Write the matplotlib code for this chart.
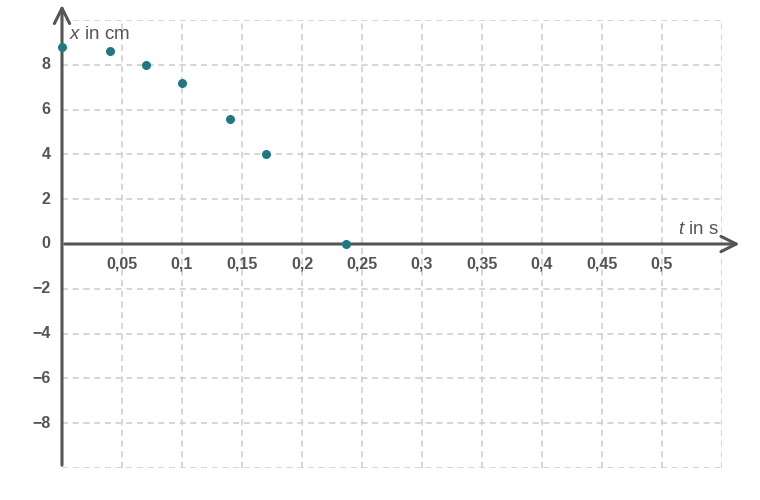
import matplotlib.pyplot as plt

# data
t_values = [0.0, 0.04, 0.07, 0.10, 0.14, 0.17, 0.237]
x_values = [8.8, 8.6, 8.0, 7.2, 5.6, 4.0, 0.0]

x_ticks = [0.05, 0.1, 0.15, 0.2, 0.25, 0.3, 0.35, 0.4, 0.45, 0.5]
x_tick_labels = ["0,05", "0,1", "0,15", "0,2", "0,25", "0,3", "0,35", "0,4", "0,45", "0,5"]
y_ticks = [-8, -6, -4, -2, 0, 2, 4, 6, 8]
y_tick_labels = ["\u22128", "\u22126", "\u22124", "\u22122", "0", "2", "4", "6", "8"]

plt.rcParams['font.family'] = ['Liberation Sans', 'DejaVu Sans']
plt.rcParams['mathtext.fontset'] = 'custom'
plt.rcParams['mathtext.rm'] = 'Liberation Sans'
plt.rcParams['mathtext.it'] = 'Liberation Sans:italic'

axis_col = '#555555'
grid_col = '#cccccc'
dot_col = '#1d7a82'

fig = plt.figure(figsize=(7.6, 5.0), dpi=100)
ax = fig.add_axes([62 / 760, 32 / 500, 660 / 760, 448 / 500])
ax.set_xlim(0, 0.55)
ax.set_ylim(-10, 10)
for s in ax.spines.values():
    s.set_visible(False)
ax.set_xticks([])
ax.set_yticks([])

# dashed grid
for gx in [0.05 * i for i in range(1, 12)]:
    ax.plot([gx, gx], [-10, 10], color=grid_col, lw=1.1, ls=(0, (4, 3)), zorder=1)
for gy in range(-10, 11, 2):
    if gy == 0:
        continue
    ax.plot([0, 0.55], [gy, gy], color=grid_col, lw=1.1, ls=(0, (4, 3)), zorder=1)

# axes with arrows
arrow = dict(arrowstyle='->,head_length=1.1,head_width=0.55', color=axis_col, lw=2.2)
ax.annotate('', xy=(0.567, 0), xytext=(0, 0), arrowprops=arrow,
            annotation_clip=False, zorder=3)
ax.annotate('', xy=(0, 10.8), xytext=(0, -10), arrowprops=arrow,
            annotation_clip=False, zorder=3)

# tick labels
for tx, lab in zip(x_ticks, x_tick_labels):
    ax.text(tx, -0.9, lab, ha='center', va='center', fontsize=11.5,
            fontweight='bold', color=axis_col)
for ty, lab in zip(y_ticks, y_tick_labels):
    ax.text(-0.0095, ty, lab, ha='right', va='center', fontsize=11.5,
            fontweight='bold', color=axis_col)

# axis titles
ax.text(0.006, 9.35, '$x$ in cm', ha='left', va='center', fontsize=13.5, color=axis_col)
ax.text(0.547, 0.65, '$t$ in s', ha='right', va='center', fontsize=13.5, color=axis_col)

ax.scatter(t_values, x_values, s=30, color=dot_col, zorder=4, clip_on=False)

fig.savefig('out.png', dpi=100)
